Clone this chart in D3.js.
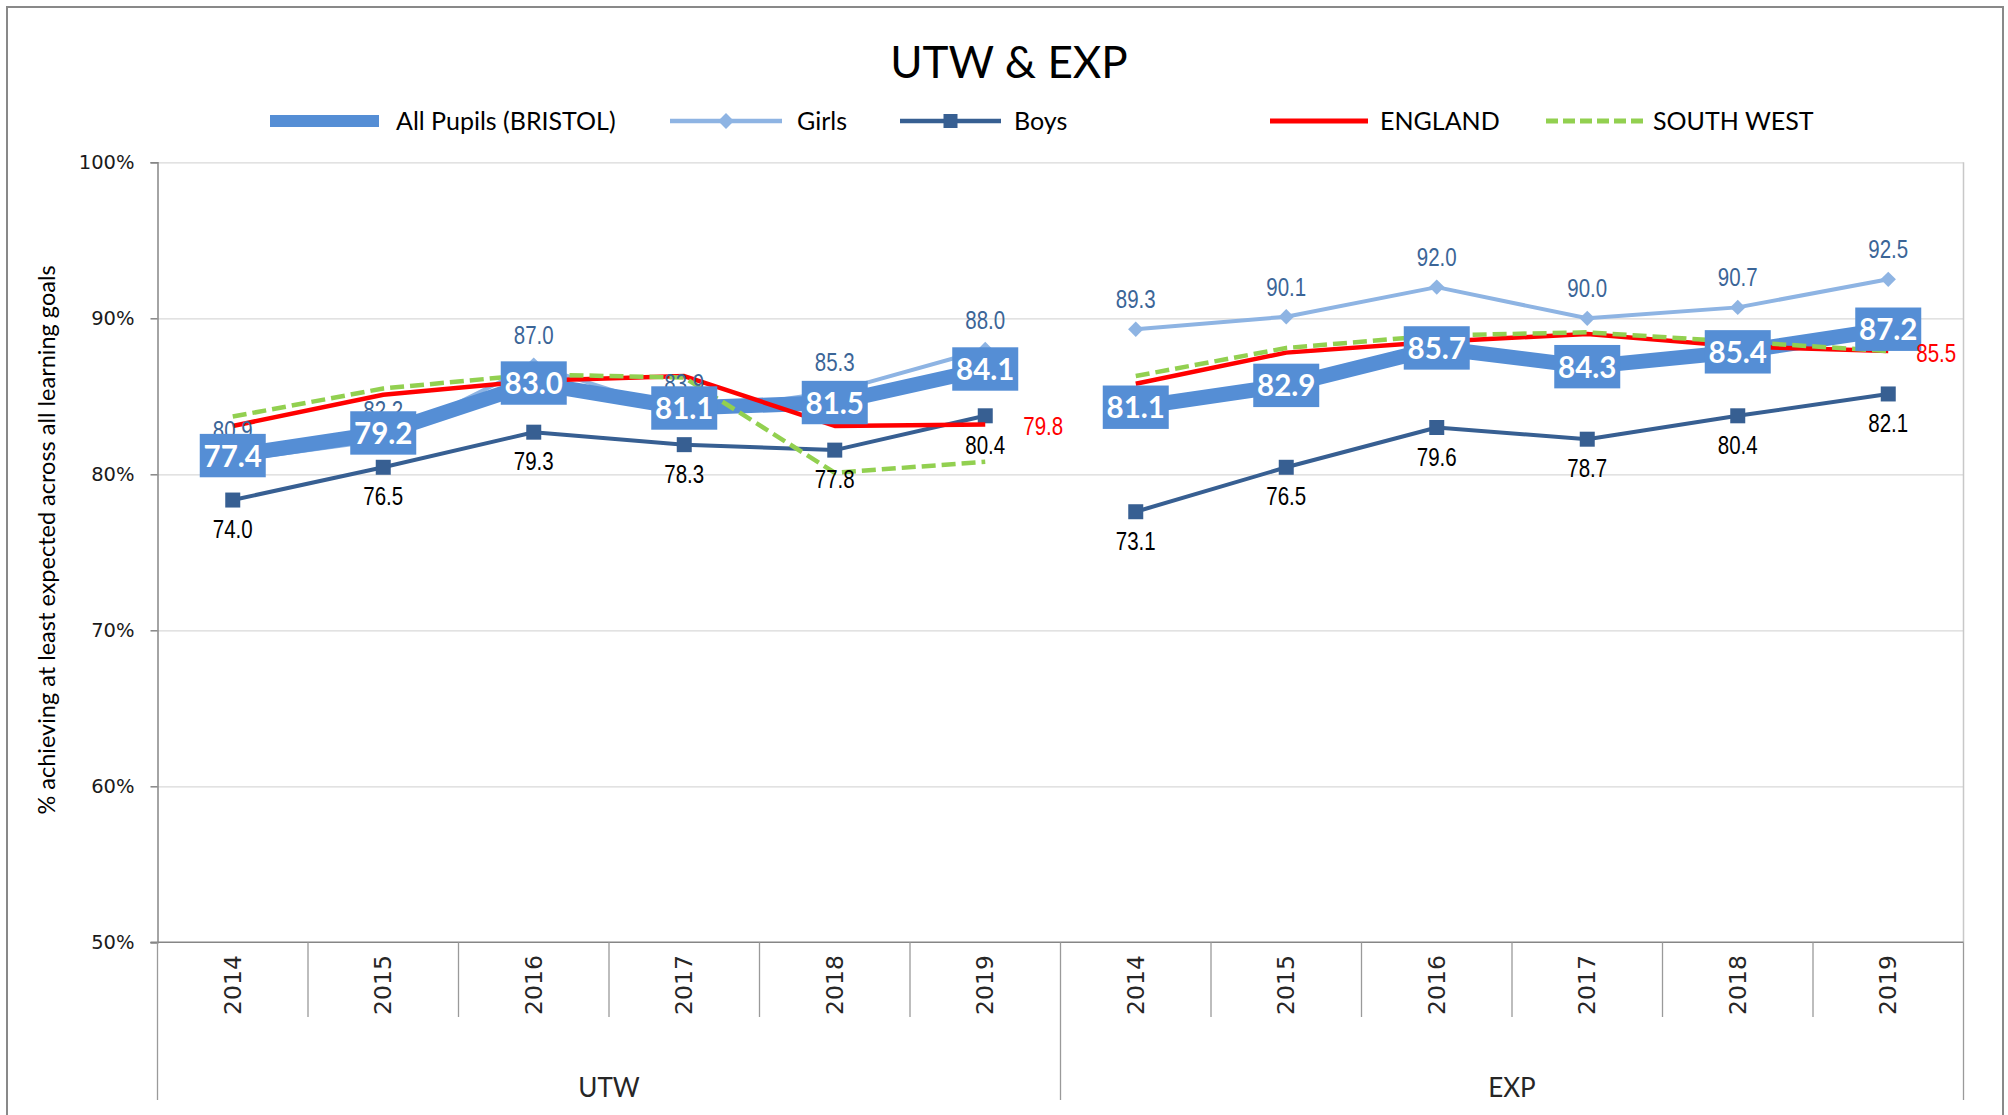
<!DOCTYPE html>
<html>
<head>
<meta charset="utf-8">
<script src="https://cdn.jsdelivr.net/npm/d3@7"></script>
<style>
  html, body { margin: 0; padding: 0; background: #fff; }
  svg { display: block; }
</style>
</head>
<body>
<svg id="chart"></svg>
<script>
// categories
var groups = ["UTW", "EXP"];
var years = ["2014", "2015", "2016", "2017", "2018", "2019"];
var yTicks = [50, 60, 70, 80, 90, 100];

// values as plotted (UTW 2014-2019, then EXP 2014-2019)
var allPupils = [81.2, 82.65, 85.85, 84.25, 84.6, 86.75, 84.3, 85.7, 88.1, 86.9, 87.85, 89.3];
var girls = [80.9, 82.2, 87.0, 83.9, 85.3, 88.0, 89.3, 90.1, 92.0, 90.0, 90.7, 92.5];
var boys = [78.35, 80.45, 82.7, 81.9, 81.55, 83.75, 77.6, 80.45, 83.0, 82.25, 83.75, 85.15];
var england = [83.1, 85.1, 86.0, 86.3, 83.1, 83.2, 85.8, 87.8, 88.5, 89.0, 88.2, 87.9];
var southWest = [83.7, 85.5, 86.4, 86.2, 80.1, 80.8, 86.3, 88.1, 88.9, 89.1, 88.5, 87.9];

// data label texts as printed on the chart
var allPupilsLabels = [77.4, 79.2, 83.0, 81.1, 81.5, 84.1, 81.1, 82.9, 85.7, 84.3, 85.4, 87.2];
var girlsLabels = [80.9, 82.2, 87.0, 83.9, 85.3, 88.0, 89.3, 90.1, 92.0, 90.0, 90.7, 92.5];
var boysLabels = [74.0, 76.5, 79.3, 78.3, 77.8, 80.4, 73.1, 76.5, 79.6, 78.7, 80.4, 82.1];
var englandLabels = [null, null, null, null, null, 79.8, null, null, null, null, null, 85.5];

var width = 2008, height = 1115;
var plotLeft = 157.5, plotRight = 1963.5, plotTop = 162.3, plotBottom = 942.3;

var svg = d3.select("#chart")
  .attr("width", width)
  .attr("height", height);

var keys = [];
groups.forEach(function (g) { years.forEach(function (yr) { keys.push(g + "|" + yr); }); });

var x = d3.scaleBand().domain(keys).range([plotLeft, plotRight]).padding(0);
var y = d3.scaleLinear().domain([50, 100]).range([plotBottom, plotTop]);
var cx = function (i) { return x(keys[i]) + x.bandwidth() / 2; };

// outer frame
svg.append("rect")
  .attr("x", 7).attr("y", 7)
  .attr("width", 1996).attr("height", 1120)
  .attr("fill", "none").attr("stroke", "#898989").attr("stroke-width", 2);

// title
svg.append("text")
  .attr("x", 1009).attr("y", 78)
  .attr("text-anchor", "middle")
  .style("font-family", "Lato, sans-serif").style("font-size", "44px")
  .text("UTW & EXP");

// gridlines
svg.append("g")
  .attr("transform", "translate(" + plotLeft + ",0)")
  .call(d3.axisLeft(y).tickValues([60, 70, 80, 90, 100]).tickSize(-(plotRight - plotLeft)).tickFormat(""))
  .call(function (g) { g.select(".domain").remove(); })
  .selectAll("line").attr("stroke", "#d9d9d9").attr("stroke-width", 1.3);

// right edge of plot
svg.append("line")
  .attr("x1", plotRight).attr("x2", plotRight).attr("y1", plotTop).attr("y2", plotBottom)
  .attr("stroke", "#c8c8c8").attr("stroke-width", 1.5);

// y axis
var yAxis = svg.append("g")
  .attr("transform", "translate(" + plotLeft + ",0)")
  .call(d3.axisLeft(y).tickValues(yTicks).tickSize(7).tickPadding(16)
    .tickFormat(function (d) { return d + "%"; }));
yAxis.select(".domain").attr("stroke", "#868686").attr("stroke-width", 1.5);
yAxis.selectAll(".tick line").attr("stroke", "#868686").attr("stroke-width", 1.5);
yAxis.selectAll("text")
  .style("font-family", "'DejaVu Sans', sans-serif").style("font-size", "19.5px")
  .attr("fill", "#1a1a1a");

svg.append("text")
  .attr("transform", "translate(46,540) rotate(-90)")
  .attr("text-anchor", "middle").attr("dominant-baseline", "central")
  .style("font-family", "Lato, sans-serif").style("font-size", "23.5px")
  .text("% achieving at least expected across all learning goals");

// x axis line and category separators
svg.append("line")
  .attr("x1", plotLeft - 7).attr("x2", plotRight).attr("y1", plotBottom).attr("y2", plotBottom)
  .attr("stroke", "#868686").attr("stroke-width", 1.5);

var bounds = keys.map(function (k) { return x(k); }).concat([plotRight]);
svg.append("g").selectAll("line")
  .data(bounds)
  .enter().append("line")
  .attr("x1", function (d) { return d; }).attr("x2", function (d) { return d; })
  .attr("y1", plotBottom)
  .attr("y2", function (d, i) { return i % 6 === 0 ? 1100 : 1017; })
  .attr("stroke", "#9a9a9a").attr("stroke-width", 1.3);

svg.append("g").selectAll("text")
  .data(keys)
  .enter().append("text")
  .attr("transform", function (d, i) { return "translate(" + cx(i) + ",985) rotate(-90)"; })
  .attr("text-anchor", "middle").attr("dominant-baseline", "central")
  .style("font-family", "'DejaVu Sans', sans-serif").style("font-size", "23.5px")
  .attr("fill", "#262626")
  .text(function (d) { return d.split("|")[1]; });

svg.append("g").selectAll("text")
  .data(groups)
  .enter().append("text")
  .attr("x", function (g) { return (x(g + "|" + years[0]) + x(g + "|" + years[5]) + x.bandwidth()) / 2; })
  .attr("y", 1097)
  .attr("text-anchor", "middle")
  .style("font-family", "Lato, sans-serif").style("font-size", "26px")
  .attr("fill", "#262626")
  .text(function (g) { return g; });

// series lines, one path per group
var line = d3.line()
  .x(function (d) { return cx(d.i); })
  .y(function (d) { return y(d.v); });

function segments(vals) {
  return groups.map(function (g, gi) {
    return vals.slice(gi * 6, gi * 6 + 6).map(function (v, j) { return { i: gi * 6 + j, v: v }; });
  });
}

function drawLine(vals, color, w, dash) {
  svg.append("g").selectAll("path")
    .data(segments(vals))
    .enter().append("path")
    .attr("d", line)
    .attr("fill", "none")
    .attr("stroke", color)
    .attr("stroke-width", w)
    .attr("stroke-linejoin", "round")
    .attr("stroke-dasharray", dash || null);
}

var cGirls = "#8eb4e3", cAll = "#558ed5", cBoys = "#375f92", cEng = "#ff0000", cSW = "#92d050";

drawLine(girls, cGirls, 4);
svg.append("g").selectAll("path")
  .data(girls)
  .enter().append("path")
  .attr("d", d3.symbol().type(d3.symbolDiamond2).size(150))
  .attr("transform", function (d, i) { return "translate(" + cx(i) + "," + y(d) + ")"; })
  .attr("fill", cGirls);

drawLine(allPupils, cAll, 15);

drawLine(boys, cBoys, 4);
svg.append("g").selectAll("rect")
  .data(boys)
  .enter().append("rect")
  .attr("x", function (d, i) { return cx(i) - 7.5; })
  .attr("y", function (d) { return y(d) - 7.5; })
  .attr("width", 15).attr("height", 15)
  .attr("fill", cBoys);

drawLine(england, cEng, 4.5);
drawLine(southWest, cSW, 4.5, "14,6");

// data labels
function narrowText(sel, size) {
  sel.style("font-family", "'Liberation Sans', Arial, sans-serif")
    .style("font-size", size + "px");
}

svg.append("g").selectAll("text")
  .data(girlsLabels)
  .enter().append("text")
  .attr("transform", function (d, i) { return "translate(" + cx(i) + "," + (y(girls[i]) - 21) + ") scale(0.82,1)"; })
  .attr("text-anchor", "middle")
  .attr("fill", "#3b6597")
  .call(narrowText, 25)
  .text(function (d) { return d.toFixed(1); });

var boxes = svg.append("g").selectAll("g")
  .data(allPupilsLabels)
  .enter().append("g")
  .attr("transform", function (d, i) { return "translate(" + cx(i) + "," + y(allPupils[i]) + ")"; });
boxes.append("rect")
  .attr("x", -33).attr("y", -21.7).attr("width", 66).attr("height", 43.4)
  .attr("fill", cAll);
boxes.append("text")
  .attr("y", 11)
  .attr("text-anchor", "middle")
  .attr("fill", "#fff")
  .style("font-family", "Lato, sans-serif").style("font-size", "29.5px").style("font-weight", "bold")
  .text(function (d) { return d.toFixed(1); });

svg.append("g").selectAll("text")
  .data(boysLabels)
  .enter().append("text")
  .attr("transform", function (d, i) { return "translate(" + cx(i) + "," + (y(boys[i]) + 38) + ") scale(0.82,1)"; })
  .attr("text-anchor", "middle")
  .attr("fill", "#000")
  .call(narrowText, 25)
  .text(function (d) { return d.toFixed(1); });

var engDx = { 5: 38, 11: 28 };
svg.append("g").selectAll("text")
  .data(englandLabels.map(function (v, i) { return { v: v, i: i }; }).filter(function (d) { return d.v !== null; }))
  .enter().append("text")
  .attr("transform", function (d) { return "translate(" + (cx(d.i) + engDx[d.i]) + "," + (y(england[d.i]) + 11) + ") scale(0.82,1)"; })
  .attr("fill", cEng)
  .call(narrowText, 25)
  .text(function (d) { return d.v.toFixed(1); });

// legend
var legend = [
  { name: "All Pupils (BRISTOL)", x1: 270, x2: 379, tx: 396, color: cAll, w: 12 },
  { name: "Girls", x1: 670, x2: 782, tx: 797, color: cGirls, w: 4.5, marker: "diamond" },
  { name: "Boys", x1: 900, x2: 1001, tx: 1014, color: cBoys, w: 4.5, marker: "square" },
  { name: "ENGLAND", x1: 1270, x2: 1368, tx: 1380, color: cEng, w: 5 },
  { name: "SOUTH WEST", x1: 1546, x2: 1643, tx: 1653, color: cSW, w: 5, dash: "12,5" }
];
var lg = svg.append("g").selectAll("g").data(legend).enter().append("g");
lg.append("line")
  .attr("x1", function (d) { return d.x1; }).attr("x2", function (d) { return d.x2; })
  .attr("y1", 121).attr("y2", 121)
  .attr("stroke", function (d) { return d.color; })
  .attr("stroke-width", function (d) { return d.w; })
  .attr("stroke-dasharray", function (d) { return d.dash || null; });
lg.filter(function (d) { return d.marker === "diamond"; }).append("path")
  .attr("d", d3.symbol().type(d3.symbolDiamond2).size(160))
  .attr("transform", function (d) { return "translate(" + (d.x1 + d.x2) / 2 + ",121)"; })
  .attr("fill", function (d) { return d.color; });
lg.filter(function (d) { return d.marker === "square"; }).append("rect")
  .attr("x", function (d) { return (d.x1 + d.x2) / 2 - 7; }).attr("y", 114)
  .attr("width", 14).attr("height", 14)
  .attr("fill", function (d) { return d.color; });
lg.append("text")
  .attr("x", function (d) { return d.tx; }).attr("y", 130)
  .style("font-family", "Lato, sans-serif").style("font-size", "25px")
  .text(function (d) { return d.name; });
</script>
</body>
</html>
